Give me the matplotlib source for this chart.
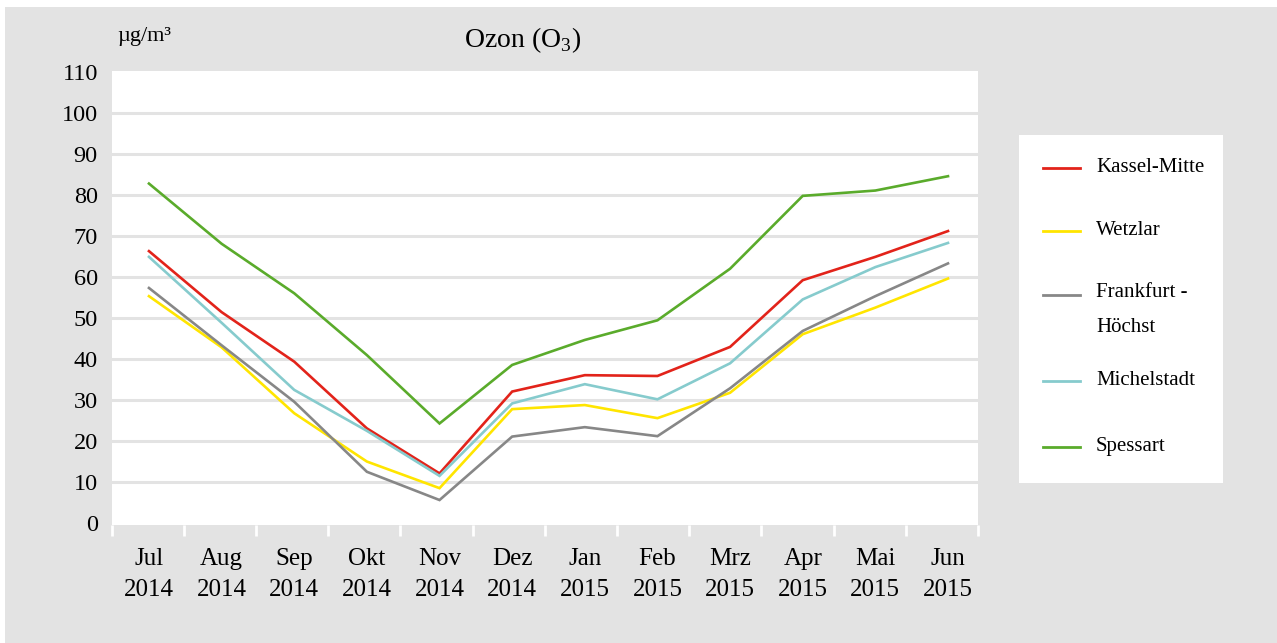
import numpy as np
import matplotlib.pyplot as plt
from matplotlib.patches import Rectangle

plt.rcParams['font.family'] = ['Liberation Serif', 'DejaVu Serif']
plt.rcParams['mathtext.fontset'] = 'custom'
plt.rcParams['mathtext.rm'] = 'Liberation Serif'

# monthly ozone means, Jul 2014 - Jun 2015
months = ["Jul\n2014", "Aug\n2014", "Sep\n2014", "Okt\n2014", "Nov\n2014", "Dez\n2014",
          "Jan\n2015", "Feb\n2015", "Mrz\n2015", "Apr\n2015", "Mai\n2015", "Jun\n2015"]
kassel = [66.3, 51.4, 39.3, 23.0, 12.0, 32.0, 36.0, 35.8, 42.9, 59.2, 64.9, 71.2]
wetzlar = [55.3, 42.8, 26.7, 14.9, 8.4, 27.7, 28.7, 25.5, 31.7, 46.0, 52.5, 59.6]
frankfurt = [57.3, 43.3, 29.5, 12.4, 5.5, 21.0, 23.3, 21.1, 32.8, 46.8, 55.3, 63.3]
michelstadt = [64.9, 48.8, 32.4, 22.4, 11.4, 29.1, 33.8, 30.1, 38.9, 54.5, 62.4, 68.3]
spessart = [82.8, 68.1, 56.0, 40.9, 24.2, 38.5, 44.6, 49.4, 62.0, 79.8, 81.1, 84.6]

series = [
    ("Kassel-Mitte", kassel, "#e2231a"),
    ("Wetzlar", wetzlar, "#ffe500"),
    ("Frankfurt -\nHöchst", frankfurt, "#878787"),
    ("Michelstadt", michelstadt, "#86cbcd"),
    ("Spessart", spessart, "#5aab2b"),
]
yticks = np.arange(0, 111, 10)

W, H = 1277, 643
fig = plt.figure(figsize=(W / 100, H / 100), dpi=100, facecolor="white")
bg = "#e3e3e3"
fig.patches.append(Rectangle((5 / W, 0), 1, (H - 7) / H, transform=fig.transFigure,
                             facecolor=bg, edgecolor="none", zorder=-10))

def px_axes(x0, y0, x1, y1):
    return fig.add_axes([x0 / W, (H - y1) / H, (x1 - x0) / W, (y1 - y0) / H])

ax = px_axes(111.7, 71, 978, 525)
ax.set_facecolor("white")
x = np.arange(len(months))
for name, vals, col in series:
    ax.plot(x, vals, color=col, lw=1.9, solid_joinstyle="miter", zorder=3)

ax.set_ylim(-0.6, 110.3)
ax.set_xlim(-0.513, 11.413)
ax.set_yticks(yticks)
ax.set_yticklabels([str(v) for v in yticks], fontsize=17.5)
for v in yticks[1:-1]:
    ax.axhline(v, color=bg, lw=2.2, zorder=1)

ax.set_xticks(x)
ax.set_xticklabels(months, fontsize=18, linespacing=1.53)
ax.set_xticks(np.linspace(-0.513, 11.413, 13), minor=True)
ax.tick_params(axis="x", which="major", length=0, pad=16.5)
ax.tick_params(axis="x", which="minor", length=8, width=2, color="white", direction="out")
ax.tick_params(axis="y", length=0, pad=10)
for s in ax.spines.values():
    s.set_visible(False)

fig.text(523 / W, 1 - 40 / H, r"Ozon (O$_3$)", fontsize=20, ha="center", va="center")
fig.text(117 / W, 1 - 37 / H, "µg/m³", fontsize=16, ha="left", va="center")

# legend box
lg = px_axes(1019, 135, 1223, 483)
lg.set_xlim(1019, 1223)
lg.set_ylim(483, 135)
lg.axis("off")
lg.add_patch(Rectangle((1019, 135), 204, 348, facecolor="white", edgecolor="none"))
entry_y = [168, 231, 295, 381, 447]
for (name, vals, col), yy in zip(series, entry_y):
    lg.plot([1043, 1080], [yy, yy], color=col, lw=2)
    if "\n" in name:
        # two-line label: first line sits level with the handle
        lg.text(1096, yy - 12, name, fontsize=15, ha="left", va="top", linespacing=2.15)
    else:
        lg.text(1096, yy, name, fontsize=15, ha="left", va="center")

fig.savefig("out.png", dpi=100, facecolor=fig.get_facecolor())
